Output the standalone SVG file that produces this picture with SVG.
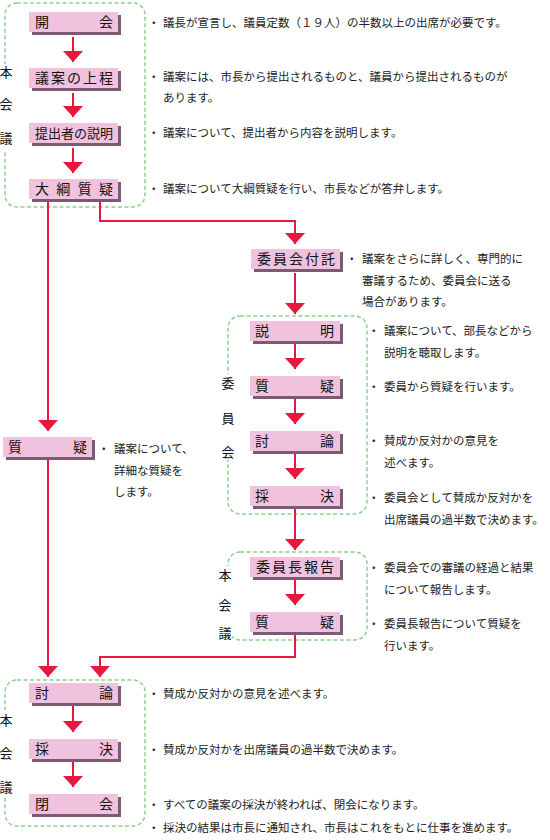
<svg xmlns="http://www.w3.org/2000/svg" width="550" height="840" viewBox="0 0 550 840">
<defs>
<style>
.grp{fill:none;stroke:#8fd08f;stroke-width:1.5;stroke-dasharray:4 2.5}
.box{fill:#f0c2de}
.sh{fill:#7c5a74}
.bt{font-family:"Noto Sans CJK JP","Noto Sans",sans-serif;font-size:14px;fill:#111}
.d{font-family:"Noto Sans CJK JP","Noto Sans",sans-serif;font-size:11.5px;fill:#222}
.side{font-family:"Noto Sans CJK JP","Noto Sans",sans-serif;font-size:13px;fill:#111;text-anchor:middle}
.lbg{fill:#fff}
.c{fill:none;stroke:#e8173e;stroke-width:2}
</style>
<marker id="ah" markerUnits="userSpaceOnUse" markerWidth="11" markerHeight="20" viewBox="0 -10 11 20" refX="11" refY="0" orient="auto">
<path d="M0,-10 L11,0 L0,10 z" fill="#e8173e"/>
</marker>
</defs>
<rect width="550" height="840" fill="#fff"/>

<!-- groups (dashed frames) -->
<g id="group-honkaigi-1">
<rect class="grp" x="5" y="3" width="140" height="204" rx="12"/>
<rect class="lbg" x="0" y="64" width="13" height="86"/>
<text class="side" x="6" y="77">本</text>
<text class="side" x="6" y="109">会</text>
<text class="side" x="6" y="143">議</text>
</g>
<g id="group-iinkai">
<rect class="grp" x="228" y="316" width="139" height="198" rx="12"/>
<rect class="lbg" x="221" y="374" width="14" height="86"/>
<text class="side" x="228" y="388">委</text>
<text class="side" x="228" y="423">員</text>
<text class="side" x="228" y="457">会</text>
</g>
<g id="group-honkaigi-2">
<rect class="grp" x="228" y="552" width="139" height="88" rx="12"/>
<rect class="lbg" x="218" y="566" width="14" height="76"/>
<text class="side" x="225" y="580">本</text>
<text class="side" x="225" y="610">会</text>
<text class="side" x="225" y="638">議</text>
</g>
<g id="group-honkaigi-3">
<rect class="grp" x="5" y="680" width="140" height="146" rx="12"/>
<rect class="lbg" x="0" y="710" width="13" height="86"/>
<text class="side" x="6" y="725">本</text>
<text class="side" x="6" y="758">会</text>
<text class="side" x="6" y="792">議</text>
</g>

<!-- connectors -->
<g id="connectors">
<line class="c" x1="73" y1="37" x2="73" y2="62" marker-end="url(#ah)"/>
<line class="c" x1="73" y1="93" x2="73" y2="117" marker-end="url(#ah)"/>
<line class="c" x1="73" y1="148" x2="73" y2="173" marker-end="url(#ah)"/>
<line class="c" x1="48" y1="201" x2="48" y2="431" marker-end="url(#ah)"/>
<path class="c" d="M100,201 V221 H295 V244" marker-end="url(#ah)"/>
<line class="c" x1="295" y1="273" x2="295" y2="314" marker-end="url(#ah)"/>
<line class="c" x1="295" y1="344" x2="295" y2="369" marker-end="url(#ah)"/>
<line class="c" x1="295" y1="399" x2="295" y2="424" marker-end="url(#ah)"/>
<line class="c" x1="295" y1="454" x2="295" y2="479" marker-end="url(#ah)"/>
<line class="c" x1="295" y1="509" x2="295" y2="550" marker-end="url(#ah)"/>
<line class="c" x1="295" y1="580" x2="295" y2="605" marker-end="url(#ah)"/>
<path class="c" d="M295,635 V657 H100 V677" marker-end="url(#ah)"/>
<line class="c" x1="48" y1="460" x2="48" y2="677" marker-end="url(#ah)"/>
<line class="c" x1="73" y1="706" x2="73" y2="732" marker-end="url(#ah)"/>
<line class="c" x1="73" y1="762" x2="73" y2="787" marker-end="url(#ah)"/>
</g>

<!-- nodes -->
<g id="n-kaikai">
<rect class="sh" x="32" y="15" width="89" height="20"/><rect class="box" x="29" y="12" width="89" height="20"/>
<text class="bt" x="35" y="27">開</text><text class="bt" x="113" y="27" text-anchor="end">会</text>
<text class="d" x="148" y="27">・</text><text class="d" x="163" y="27">議長が宣言し、議員定数（１９人）の半数以上の出席が必要です。</text>
</g>
<g id="n-joutei">
<rect class="sh" x="32" y="71" width="89" height="20"/><rect class="box" x="29" y="68" width="89" height="20"/>
<text class="bt" x="35" y="83" textLength="78" lengthAdjust="spacing">議案の上程</text>
<text class="d" x="148" y="81">・</text><text class="d" x="163" y="81">議案には、市長から提出されるものと、議員から提出されるものが</text>
<text class="d" x="163" y="102">あります。</text>
</g>
<g id="n-setsumei">
<rect class="sh" x="32" y="126" width="89" height="20"/><rect class="box" x="29" y="123" width="89" height="20"/>
<text class="bt" x="35" y="138" textLength="78" lengthAdjust="spacingAndGlyphs" style="font-size:13px">提出者の説明</text>
<text class="d" x="148" y="137">・</text><text class="d" x="163" y="137">議案について、提出者から内容を説明します。</text>
</g>
<g id="n-taikou">
<rect class="sh" x="32" y="182" width="89" height="20"/><rect class="box" x="29" y="179" width="89" height="20"/>
<text class="bt" x="35" y="194" textLength="78" lengthAdjust="spacing">大綱質疑</text>
<text class="d" x="148" y="193">・</text><text class="d" x="163" y="193">議案について大綱質疑を行い、市長などが答弁します。</text>
</g>
<g id="n-futaku">
<rect class="sh" x="254" y="252" width="89" height="20"/><rect class="box" x="251" y="249" width="89" height="20"/>
<text class="bt" x="257" y="264" textLength="78" lengthAdjust="spacing">委員会付託</text>
<text class="d" x="346" y="263">・</text><text class="d" x="362" y="263">議案をさらに詳しく、専門的に</text>
<text class="d" x="362" y="285">審議するため、委員会に送る</text>
<text class="d" x="362" y="306">場合があります。</text>
</g>
<g id="n-i-setsumei">
<rect class="sh" x="253" y="324" width="90" height="20"/><rect class="box" x="250" y="321" width="90" height="20"/>
<text class="bt" x="255" y="336">説</text><text class="bt" x="334" y="336" text-anchor="end">明</text>
<text class="d" x="368" y="335">・</text><text class="d" x="384" y="335">議案について、部長などから</text>
<text class="d" x="384" y="357">説明を聴取します。</text>
</g>
<g id="n-i-shitsugi">
<rect class="sh" x="253" y="379" width="90" height="20"/><rect class="box" x="250" y="376" width="90" height="20"/>
<text class="bt" x="255" y="391">質</text><text class="bt" x="334" y="391" text-anchor="end">疑</text>
<text class="d" x="368" y="391">・</text><text class="d" x="384" y="391">委員から質疑を行います。</text>
</g>
<g id="n-i-touron">
<rect class="sh" x="253" y="434" width="90" height="20"/><rect class="box" x="250" y="431" width="90" height="20"/>
<text class="bt" x="255" y="446">討</text><text class="bt" x="334" y="446" text-anchor="end">論</text>
<text class="d" x="368" y="445">・</text><text class="d" x="384" y="445">賛成か反対かの意見を</text>
<text class="d" x="384" y="467">述べます。</text>
</g>
<g id="n-i-saiketsu">
<rect class="sh" x="253" y="489" width="90" height="20"/><rect class="box" x="250" y="486" width="90" height="20"/>
<text class="bt" x="255" y="501">採</text><text class="bt" x="334" y="501" text-anchor="end">決</text>
<text class="d" x="368" y="502">・</text><text class="d" x="384" y="502">委員会として賛成か反対かを</text>
<text class="d" x="384" y="524">出席議員の過半数で決めます。</text>
</g>
<g id="n-houkoku">
<rect class="sh" x="253" y="560" width="90" height="20"/><rect class="box" x="250" y="557" width="90" height="20"/>
<text class="bt" x="256" y="572" textLength="78" lengthAdjust="spacing">委員長報告</text>
<text class="d" x="368" y="572">・</text><text class="d" x="384" y="572">委員会での審議の経過と結果</text>
<text class="d" x="384" y="594">について報告します。</text>
</g>
<g id="n-h-shitsugi">
<rect class="sh" x="253" y="615" width="90" height="20"/><rect class="box" x="250" y="612" width="90" height="20"/>
<text class="bt" x="255" y="627">質</text><text class="bt" x="334" y="627" text-anchor="end">疑</text>
<text class="d" x="368" y="628">・</text><text class="d" x="384" y="628">委員長報告について質疑を</text>
<text class="d" x="384" y="650">行います。</text>
</g>
<g id="n-shitsugi">
<rect class="sh" x="6" y="440" width="89" height="20"/><rect class="box" x="3" y="437" width="89" height="20"/>
<text class="bt" x="8" y="452">質</text><text class="bt" x="87" y="452" text-anchor="end">疑</text>
<text class="d" x="98" y="453">・</text><text class="d" x="114" y="453">議案について、</text>
<text class="d" x="114" y="475">詳細な質疑を</text>
<text class="d" x="114" y="496">します。</text>
</g>
<g id="n-touron">
<rect class="sh" x="32" y="686" width="89" height="20"/><rect class="box" x="29" y="683" width="89" height="20"/>
<text class="bt" x="35" y="698">討</text><text class="bt" x="113" y="698" text-anchor="end">論</text>
<text class="d" x="148" y="698">・</text><text class="d" x="163" y="698">賛成か反対かの意見を述べます。</text>
</g>
<g id="n-saiketsu">
<rect class="sh" x="32" y="742" width="89" height="20"/><rect class="box" x="29" y="739" width="89" height="20"/>
<text class="bt" x="35" y="754">採</text><text class="bt" x="113" y="754" text-anchor="end">決</text>
<text class="d" x="148" y="754">・</text><text class="d" x="163" y="754">賛成か反対かを出席議員の過半数で決めます。</text>
</g>
<g id="n-heikai">
<rect class="sh" x="32" y="797" width="89" height="20"/><rect class="box" x="29" y="794" width="89" height="20"/>
<text class="bt" x="35" y="809">閉</text><text class="bt" x="113" y="809" text-anchor="end">会</text>
<text class="d" x="148" y="809">・</text><text class="d" x="163" y="809">すべての議案の採決が終われば、閉会になります。</text>
<text class="d" x="148" y="832">・</text><text class="d" x="163" y="832">採決の結果は市長に通知され、市長はこれをもとに仕事を進めます。</text>
</g>
</svg>
